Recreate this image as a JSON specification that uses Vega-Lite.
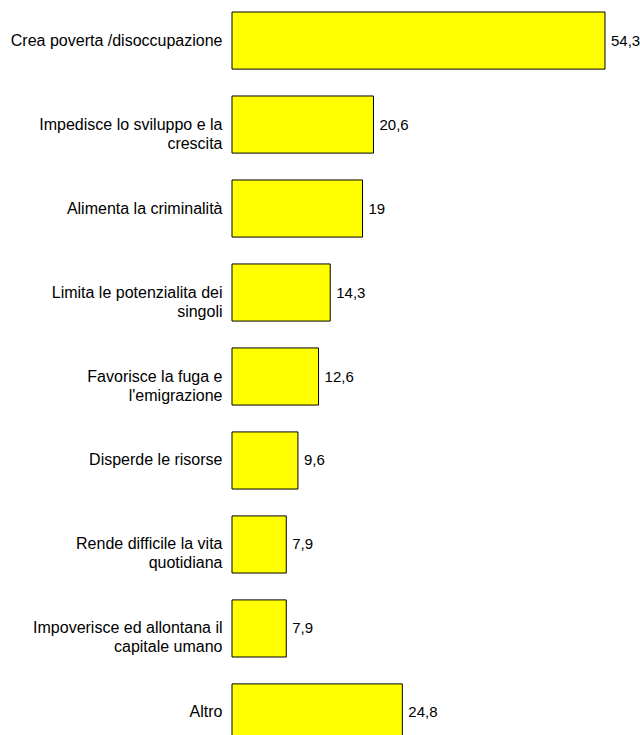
{
  "$schema": "https://vega.github.io/schema/vega-lite/v6.json",
  "autosize": "none",
  "padding": {"left": 232, "top": 0, "right": 0, "bottom": 0},
  "width": 408,
  "height": 753,
  "background": "white",
  "config": {
    "view": {"stroke": null},
    "locale": {"number": {"decimal": ",", "thousands": ".", "grouping": [3], "currency": ["", " €"]}},
    "font": "Liberation Sans"
  },
  "data": {"values": [
    {"label": ["Crea poverta /disoccupazione"], "value": 54.3},
    {"label": ["Impedisce lo sviluppo e la", "crescita"], "value": 20.6},
    {"label": ["Alimenta la criminalità"], "value": 19},
    {"label": ["Limita le potenzialita  dei", "singoli"], "value": 14.3},
    {"label": ["Favorisce la fuga e", "l'emigrazione"], "value": 12.6},
    {"label": ["Disperde le risorse"], "value": 9.6},
    {"label": ["Rende difficile la vita", "quotidiana"], "value": 7.9},
    {"label": ["Impoverisce ed allontana il", "capitale umano"], "value": 7.9},
    {"label": ["Altro"], "value": 24.8}
  ]},
  "encoding": {
    "y": {
      "field": "label", "type": "nominal", "sort": null,
      "scale": {"paddingInner": 0.32, "paddingOuter": 0.143},
      "axis": {
        "title": null, "domain": false, "ticks": false, "grid": false,
        "labelFont": "Liberation Sans", "labelFontSize": 16, "labelColor": "black",
        "labelPadding": 10, "labelLimit": 300, "labelLineHeight": 19,
        "labelBaseline": "middle"
      }
    },
    "x": {
      "field": "value", "type": "quantitative",
      "scale": {"domain": [0, 59.4], "nice": false, "zero": true},
      "axis": null
    }
  },
  "layer": [
    {"mark": {"type": "bar", "fill": "#FFFF00", "stroke": "black", "strokeWidth": 1}},
    {
      "mark": {"type": "text", "align": "left", "baseline": "middle", "dx": 6, "fontSize": 15, "font": "Liberation Sans", "color": "black"},
      "encoding": {"text": {"field": "value", "type": "quantitative", "format": "~g"}}
    }
  ]
}
